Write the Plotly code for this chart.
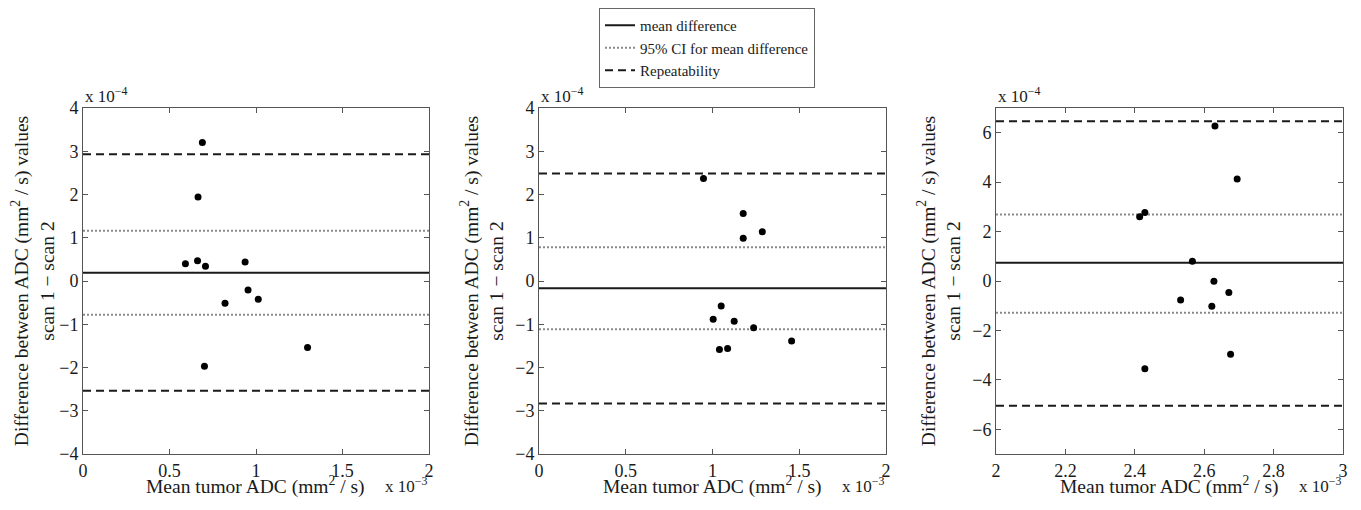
import plotly.graph_objects as go
from plotly.subplots import make_subplots

# values as shown on the axes: x in units of 1e-3 mm^2/s, y in units of 1e-4 mm^2/s
x1 = [0.690, 0.665, 0.592, 0.662, 0.708, 0.937, 0.954, 1.013, 0.821, 1.298, 0.702]
y1 = [3.20, 1.94, 0.40, 0.47, 0.34, 0.44, -0.21, -0.42, -0.515, -1.54, -1.97]
x2 = [0.948, 1.177, 1.177, 1.287, 1.050, 1.004, 1.125, 1.237, 1.456, 1.040, 1.087]
y2 = [2.37, 1.56, 0.99, 1.14, -0.58, -0.885, -0.93, -1.08, -1.385, -1.585, -1.56]
x3 = [2.631, 2.695, 2.414, 2.429, 2.566, 2.628, 2.671, 2.532, 2.622, 2.676, 2.429]
y3 = [6.27, 4.13, 2.60, 2.77, 0.795, -0.01, -0.47, -0.77, -1.02, -2.96, -3.55]

# mean difference, 95% CI (low, high), repeatability (low, high)
mean_diff = [0.19, -0.17, 0.74]
ci_low = [-0.78, -1.115, -1.28]
ci_high = [1.16, 0.78, 2.69]
rep_low = [-2.54, -2.83, -5.05]
rep_high = [2.93, 2.485, 6.46]

x_ranges = [[0, 2], [0, 2], [2, 3]]
y_ranges = [[-4, 4], [-4, 4], [-7, 7]]
x_ticks = [[0, 0.5, 1, 1.5, 2], [0, 0.5, 1, 1.5, 2], [2, 2.2, 2.4, 2.6, 2.8, 3]]
y_ticks = [[-4, -3, -2, -1, 0, 1, 2, 3, 4], [-4, -3, -2, -1, 0, 1, 2, 3, 4],
           [-6, -4, -2, 0, 2, 4, 6]]

xs = [x1, x2, x3]
ys = [y1, y2, y3]

W, H = 1361, 510
OFF = 8  # page body margin
font = "Liberation Serif"
ink = "#1a1a1a"

fig = make_subplots(rows=1, cols=3)

# plot area pixel boxes (left, right) and vertical extent, in screen pixels
boxes = [(83, 429), (539, 886), (996, 1343)]
top_px, bot_px = 108, 454

for i in range(3):
    col = i + 1
    xr = x_ranges[i]
    first = i == 0
    lines = [
        (mean_diff[i], "solid", ink, "mean difference"),
        (ci_high[i], "2px,2px", "#8a8a8a", "95% CI for mean difference"),
        (ci_low[i], "2px,2px", "#8a8a8a", None),
        (rep_high[i], "8px,5px", ink, "Repeatability"),
        (rep_low[i], "8px,5px", ink, None),
    ]
    for val, dash, color, name in lines:
        fig.add_trace(go.Scatter(
            x=xr, y=[val, val], mode="lines",
            line=dict(color=color, width=2, dash=dash),
            name=name, showlegend=first and name is not None,
            hoverinfo="skip"), row=1, col=col)
    fig.add_trace(go.Scatter(
        x=xs[i], y=ys[i], mode="markers",
        marker=dict(color="black", size=7),
        showlegend=False), row=1, col=col)

    l, r = boxes[i]
    fig.update_xaxes(
        domain=[(l - OFF) / W, (r - OFF) / W], range=xr, tickvals=x_ticks[i],
        ticks="inside", ticklen=5, tickcolor="#555", mirror="ticks",
        showline=True, linecolor="#555", linewidth=1, showgrid=False,
        zeroline=False, automargin=False,
        tickfont=dict(family=font, size=18, color=ink),
        row=1, col=col)
    fig.update_yaxes(
        domain=[1 - (bot_px - OFF) / H, 1 - (top_px - OFF) / H], range=y_ranges[i],
        tickvals=y_ticks[i],
        ticks="inside", ticklen=5, tickcolor="#555", mirror="ticks",
        showline=True, linecolor="#555", linewidth=1, showgrid=False,
        zeroline=False, automargin=False,
        tickfont=dict(family=font, size=18, color=ink),
        title=dict(text="Difference between ADC (mm<sup>2</sup> / s) values<br>scan 1 \u2212 scan 2",
                   font=dict(family=font, size=19.5, color=ink), standoff=6),
        row=1, col=col)

    xref = "x domain" if i == 0 else f"x{col} domain"
    yref = "y domain" if i == 0 else f"y{col} domain"
    fig.add_annotation(text="Mean tumor ADC (mm<sup>2</sup> / s)", xref=xref, yref=yref,
                       x=0.5, y=0, xanchor="center", yanchor="middle", yshift=-31,
                       showarrow=False, font=dict(family=font, size=19.5, color=ink))
    fig.add_annotation(text="x 10<sup>\u22124</sup>", xref=xref, yref=yref,
                       x=0, y=1, xanchor="left", yanchor="bottom", yshift=0,
                       showarrow=False, font=dict(family=font, size=17, color=ink))
    fig.add_annotation(text="x 10<sup>\u22123</sup>", xref=xref, yref=yref,
                       x=1, y=0, xanchor="right", yanchor="middle", yshift=-31,
                       showarrow=False, font=dict(family=font, size=17, color=ink))

fig.update_layout(
    width=W, height=H,
    margin=dict(l=0, r=0, t=0, b=0),
    paper_bgcolor="white", plot_bgcolor="white",
    font=dict(family=font, color=ink),
    legend=dict(x=(599 - OFF) / W, y=1, xanchor="left", yanchor="top",
                bordercolor="#666", borderwidth=1, bgcolor="white",
                font=dict(family=font, size=15, color=ink),
                tracegroupgap=0, itemwidth=30),
)

fig.write_html("out.html")
